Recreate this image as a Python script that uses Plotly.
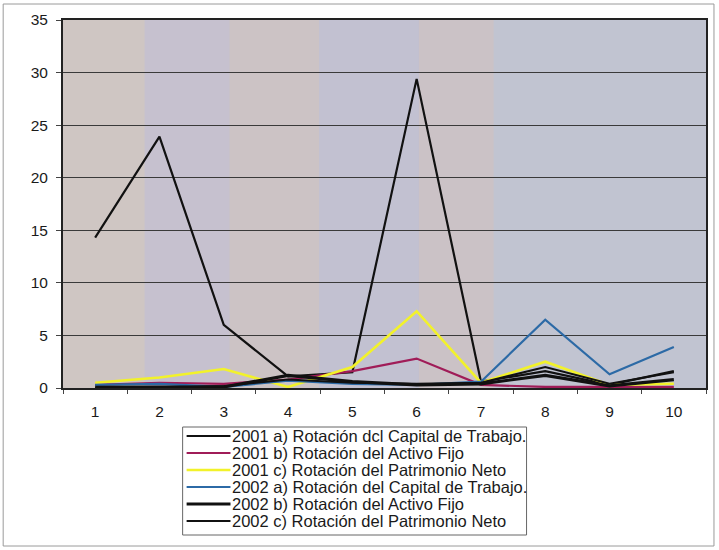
import plotly.graph_objects as go

categories = ["1", "2", "3", "4", "5", "6", "7", "8", "9", "10"]

s2001_a = [14.3, 23.9, 6.0, 1.1, 1.5, 29.4, 0.6, 1.6, 0.3, 1.6]
s2001_b = [0.3, 0.5, 0.4, 0.8, 1.6, 2.8, 0.3, 0.1, 0.1, 0.1]
s2001_c = [0.5, 1.0, 1.8, 0.1, 2.0, 7.3, 0.5, 2.5, 0.3, 0.4]
s2002_a = [0.3, 0.4, 0.1, 0.7, 0.4, 0.3, 0.6, 6.5, 1.3, 3.9]
s2002_b = [0.05, 0.05, 0.1, 1.2, 0.6, 0.3, 0.4, 1.2, 0.2, 0.8]
s2002_c = [0.0, 0.0, 0.2, 0.8, 0.5, 0.4, 0.5, 2.0, 0.4, 1.5]

names = [
    "2001 a) Rotación dcl Capital de Trabajo.",
    "2001 b) Rotación del Activo Fijo",
    "2001 c) Rotación del Patrimonio Neto",
    "2002 a) Rotación del Capital de Trabajo.",
    "2002 b) Rotación del Activo Fijo",
    "2002 c) Rotación del Patrimonio Neto",
]
series = [s2001_a, s2001_b, s2001_c, s2002_a, s2002_b, s2002_c]
colors = ["#111111", "#a01c58", "#f2f22a", "#2c6aa6", "#111111", "#111111"]
widths = [2.2, 2.2, 2.6, 2.2, 3.2, 2.0]

# plot area geometry (pixels) for converting layout positions to paper coords
L, R, T, B = 63, 708, 20, 388
W, H = 719, 550


def px(x):
    return (x - L) / (R - L)


def py(y):
    return (B - y) / (B - T)


fig = go.Figure()
for n, s, c, w in zip(names, series, colors, widths):
    fig.add_trace(go.Scatter(x=categories, y=s, mode="lines", name=n,
                             line=dict(color=c, width=w), showlegend=False))

# background tint bands
bands = [
    (63, 145, "#cfc6c3"),
    (145, 230, "#c6c1cf"),
    (230, 320, "#ccc3c5"),
    (320, 420, "#c2c1d1"),
    (420, 495, "#cbc2c6"),
    (495, 708, "#c1c4d1"),
]
shapes = []
for x0, x1, col in bands:
    shapes.append(dict(type="rect", xref="paper", yref="paper", x0=px(x0), x1=px(x1),
                       y0=0, y1=1, fillcolor=col, line=dict(width=0), layer="below"))
# outer chart frame
shapes.append(dict(type="rect", xref="paper", yref="paper",
                   x0=px(3), x1=px(716), y0=py(546), y1=py(4),
                   line=dict(color="#9a9a9a", width=1), fillcolor="rgba(0,0,0,0)"))

# custom legend box
shapes.append(dict(type="rect", xref="paper", yref="paper",
                   x0=px(183), x1=px(528), y0=py(535), y1=py(427),
                   line=dict(color="#666666", width=1), fillcolor="white"))
annotations = []
for i, (n, c, w) in enumerate(zip(names, colors, widths)):
    yy = 436 + 17 * i
    shapes.append(dict(type="line", xref="paper", yref="paper",
                       x0=px(187), x1=px(231), y0=py(yy), y1=py(yy),
                       line=dict(color=c, width=w)))
    annotations.append(dict(xref="paper", yref="paper", x=px(231), y=py(yy),
                            xanchor="left", yanchor="middle", text=n, showarrow=False,
                            font=dict(size=16.5, color="#1a1a1a")))

fig.update_layout(
    width=W, height=H,
    margin=dict(l=L, r=W - R, t=T, b=H - B),
    paper_bgcolor="white",
    plot_bgcolor="#c8c3cb",
    font=dict(family="Liberation Sans, Arial", size=15.5, color="#1a1a1a"),
    shapes=shapes,
    annotations=annotations,
    showlegend=False,
    xaxis=dict(
        type="category", range=[-0.5, 9.5], showgrid=False, showline=True,
        linecolor="#222222", linewidth=2, mirror=True, ticks="outside",
        tickson="boundaries", ticklen=4, tickcolor="#444444", zeroline=False,
        ticklabelstandoff=8,
    ),
    yaxis=dict(
        range=[0, 35], dtick=5, showgrid=True, gridcolor="#3a3a3a", gridwidth=1,
        showline=True, linecolor="#222222", linewidth=2, mirror=True,
        ticks="outside", ticklen=5, tickcolor="#444444", zeroline=False,
        ticklabelstandoff=5,
    ),
)

fig.write_html("out.html")
